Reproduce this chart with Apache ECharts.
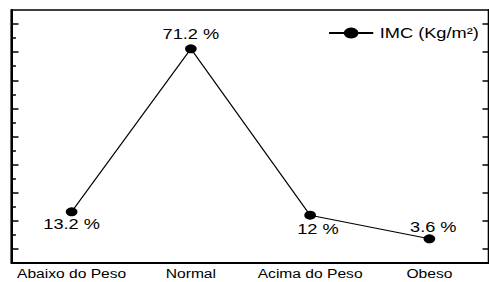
<!DOCTYPE html>
<html>
<head>
<meta charset="utf-8">
<script src="https://cdn.jsdelivr.net/npm/echarts@6/dist/echarts.min.js"></script>
<style>
html,body{margin:0;padding:0;background:#fff;overflow:hidden;}
#c{width:376px;height:282px;transform-origin:0 0;transform:scaleX(1.30053);}
</style>
</head>
<body>
<div id="c"></div>
<script>
const categories = ['Abaixo do Peso', 'Normal', 'Acima do Peso', 'Obeso'];
const imcValues = [13.2, 71.2, 12, 3.6];
const majorTicks = [0, 10, 20, 30, 40, 50, 60, 70, 80];
const minorTicks = [5, 15, 25, 35, 45, 55, 65, 75];
const seriesName = 'IMC (Kg/m²)';

const labelPlacement = [
  {position: 'bottom', distance: 0, offset: [0, 0]},
  {position: 'top', distance: 3, offset: [0, 0]},
  {position: 'bottom', distance: 2, offset: [6, 0]},
  {position: 'top', distance: 1, offset: [3, 0]}
];

const font = "'Liberation Sans', Arial, sans-serif";
const chart = echarts.init(document.getElementById('c'), null, {renderer: 'svg'});

const yBase = {type: 'value', min: -5, max: 85, splitLine: {show: false}, axisLabel: {show: false}};

chart.setOption({
  animation: false,
  backgroundColor: '#fff',
  grid: {left: 9.23, right: -3.1, top: 10, bottom: 19, containLabel: false},
  legend: {
    data: [seriesName],
    left: 247, top: 21,
    itemWidth: 34, itemHeight: 14, itemGap: 4,
    textStyle: {fontFamily: font, fontSize: 14, color: '#000'}
  },
  xAxis: [
    {type: 'category', position: 'bottom', data: categories, boundaryGap: true,
     axisLine: {onZero: false, lineStyle: {color: '#000', width: 2}},
     axisTick: {inside: true, alignWithLabel: true, interval: 0, length: 4, lineStyle: {color: '#000', width: 1.5}},
     axisLabel: {interval: 0, margin: 5, color: '#000', fontFamily: font, fontSize: 12}},
    {type: 'category', position: 'bottom', data: categories, boundaryGap: true,
     axisLine: {show: false, onZero: false},
     axisTick: {inside: true, interval: 0, length: 2, lineStyle: {color: '#000', width: 1.5}},
     axisLabel: {show: false}},
    {type: 'category', position: 'top', data: categories, boundaryGap: true,
     axisLine: {onZero: false, lineStyle: {color: '#000', width: 1.5}},
     axisTick: {inside: true, alignWithLabel: true, interval: 0, length: 3, lineStyle: {color: '#000', width: 1.5}},
     axisLabel: {show: false}},
    {type: 'category', position: 'top', data: categories, boundaryGap: true,
     axisLine: {show: false, onZero: false},
     axisTick: {inside: true, interval: 0, length: 1.5, lineStyle: {color: '#000', width: 1.5}},
     axisLabel: {show: false}}
  ],
  yAxis: [
    Object.assign({}, yBase, {position: 'left',
     axisLine: {show: true, onZero: false, lineStyle: {color: '#000', width: 2}},
     axisTick: {show: true, inside: true, length: 5, customValues: majorTicks, lineStyle: {color: '#000', width: 1.5}}}),
    Object.assign({}, yBase, {position: 'left',
     axisLine: {show: false, onZero: false},
     axisTick: {show: true, inside: true, length: 3, customValues: minorTicks, lineStyle: {color: '#000', width: 1.5}}}),
    Object.assign({}, yBase, {position: 'right',
     axisLine: {show: true, onZero: false, lineStyle: {color: '#000', width: 2}},
     axisTick: {show: true, inside: true, length: 5, customValues: majorTicks, lineStyle: {color: '#000', width: 1.5}}})
  ],
  series: [{
    name: seriesName,
    type: 'line',
    xAxisIndex: 0, yAxisIndex: 0,
    data: imcValues.map((v, i) => ({value: v, label: labelPlacement[i]})),
    symbol: 'circle',
    symbolSize: 9,
    itemStyle: {color: '#000'},
    lineStyle: {color: '#000', width: 1},
    label: {
      show: true, color: '#000', fontFamily: font, fontSize: 14,
      formatter: p => p.value + ' %'
    }
  }]
});
</script>
</body>
</html>
